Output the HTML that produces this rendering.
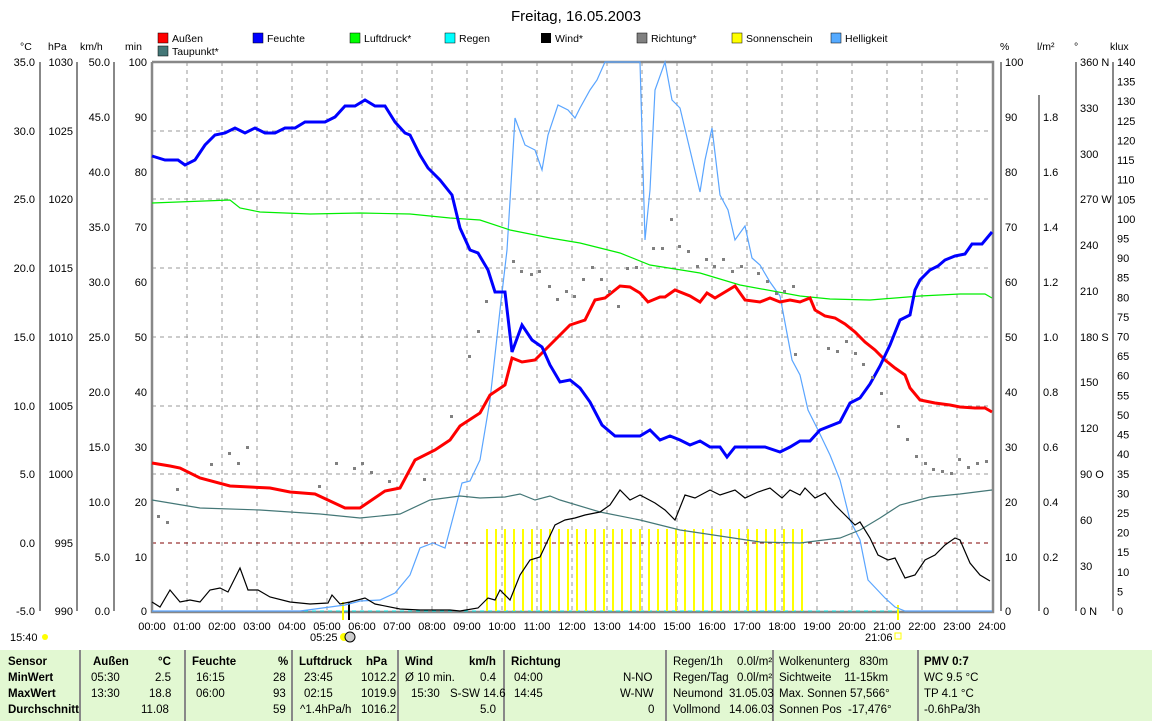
<!DOCTYPE html><html><head><meta charset="utf-8"><style>
body{margin:0;width:1152px;height:721px;background:#fff;font-family:"Liberation Sans",sans-serif;overflow:hidden;position:relative}
svg{position:absolute;left:0;top:0}
.tb{position:absolute;top:650px;height:71px;background:#e2f8d2;width:1152px;left:0}
.c{position:absolute;font-size:11.5px;white-space:nowrap}
.b{font-weight:bold}
.sep{position:absolute;top:650px;height:71px;width:2px;background:#888}
</style></head><body>
<svg width="1152" height="650" font-family="Liberation Sans, sans-serif" font-size="11">
<text x="576" y="21" text-anchor="middle" font-size="15">Freitag, 16.05.2003</text>
<g font-size="10.5">
<rect x="158" y="33" width="10" height="10" fill="red" stroke="#000" stroke-width=".5"/><text x="172" y="42">Außen</text>
<rect x="158" y="46" width="10" height="10" fill="#447777" stroke="#000" stroke-width=".5"/><text x="172" y="55">Taupunkt*</text>
<rect x="253" y="33" width="10" height="10" fill="#0000ff" stroke="#000" stroke-width=".5"/><text x="267" y="42">Feuchte</text>
<rect x="350" y="33" width="10" height="10" fill="#00ff00" stroke="#000" stroke-width=".5"/><text x="364" y="42">Luftdruck*</text>
<rect x="445" y="33" width="10" height="10" fill="#00ffff" stroke="#000" stroke-width=".5"/><text x="459" y="42">Regen</text>
<rect x="541" y="33" width="10" height="10" fill="#000"/><text x="555" y="42">Wind*</text>
<rect x="637" y="33" width="10" height="10" fill="#808080" stroke="#000" stroke-width=".5"/><text x="651" y="42">Richtung*</text>
<rect x="732" y="33" width="10" height="10" fill="#ffff00" stroke="#000" stroke-width=".5"/><text x="746" y="42">Sonnenschein</text>
<rect x="831" y="33" width="10" height="10" fill="#55aaff" stroke="#000" stroke-width=".5"/><text x="845" y="42">Helligkeit</text>
</g>
<g font-size="10.5"><text x="20" y="50">°C</text><text x="48" y="50">hPa</text><text x="80" y="50">km/h</text><text x="125" y="50">min</text>
<text x="1000" y="50">%</text><text x="1037" y="50">l/m²</text><text x="1074" y="50">°</text><text x="1110" y="50">klux</text></g>
<g stroke="#999" stroke-dasharray="4,4" stroke-width="1">
<path d="M187 62V611M222 62V611M257 62V611M292 62V611M327 62V611M362 62V611M397 62V611M432 62V611M467 62V611M502 62V611M537 62V611M572 62V611M607 62V611M642 62V611M677 62V611M712 62V611M747 62V611M782 62V611M817 62V611M852 62V611M887 62V611M922 62V611M957 62V611"/>
<path d="M152 131H992M152 199H992M152 268H992M152 337H992M152 406H992M152 474H992"/>
</g>
<path d="M152 543H992" stroke="#800000" stroke-dasharray="4,4"/>
<g stroke="#888" stroke-width="2" fill="none">
<path d="M40 62V611M77 62V611M114 62V611M1001 62V611M1039 95V611M1076 62V611M1113 62V611"/>
<path d="M152 62V612H993V62H152" stroke-width="2.5"/>
</g>
<path d="M152 611H992" stroke="#00e0e0" stroke-dasharray="4,4"/>
<g text-anchor="end">
<text x="35" y="66">35.0</text><text x="35" y="135">30.0</text><text x="35" y="203">25.0</text><text x="35" y="272">20.0</text><text x="35" y="341">15.0</text><text x="35" y="410">10.0</text><text x="35" y="478">5.0</text><text x="35" y="547">0.0</text><text x="35" y="615">-5.0</text>
<text x="73" y="66">1030</text><text x="73" y="135">1025</text><text x="73" y="203">1020</text><text x="73" y="272">1015</text><text x="73" y="341">1010</text><text x="73" y="410">1005</text><text x="73" y="478">1000</text><text x="73" y="547">995</text><text x="73" y="615">990</text>
<text x="110" y="66">50.0</text><text x="110" y="121">45.0</text><text x="110" y="176">40.0</text><text x="110" y="231">35.0</text><text x="110" y="286">30.0</text><text x="110" y="341">25.0</text><text x="110" y="396">20.0</text><text x="110" y="451">15.0</text><text x="110" y="506">10.0</text><text x="110" y="561">5.0</text><text x="110" y="615">0.0</text>
<text x="147" y="66">100</text><text x="147" y="121">90</text><text x="147" y="176">80</text><text x="147" y="231">70</text><text x="147" y="286">60</text><text x="147" y="341">50</text><text x="147" y="396">40</text><text x="147" y="451">30</text><text x="147" y="506">20</text><text x="147" y="561">10</text><text x="147" y="615">0</text>
</g>
<g>
<text x="1005" y="66">100</text><text x="1005" y="121">90</text><text x="1005" y="176">80</text><text x="1005" y="231">70</text><text x="1005" y="286">60</text><text x="1005" y="341">50</text><text x="1005" y="396">40</text><text x="1005" y="451">30</text><text x="1005" y="506">20</text><text x="1005" y="561">10</text><text x="1005" y="615">0</text>
<text x="1043" y="121">1.8</text><text x="1043" y="176">1.6</text><text x="1043" y="231">1.4</text><text x="1043" y="286">1.2</text><text x="1043" y="341">1.0</text><text x="1043" y="396">0.8</text><text x="1043" y="451">0.6</text><text x="1043" y="506">0.4</text><text x="1043" y="561">0.2</text><text x="1043" y="615">0</text>
<text x="1080" y="66">360 N</text><text x="1080" y="112">330</text><text x="1080" y="158">300</text><text x="1080" y="203">270 W</text><text x="1080" y="249">240</text><text x="1080" y="295">210</text><text x="1080" y="341">180 S</text><text x="1080" y="386">150</text><text x="1080" y="432">120</text><text x="1080" y="478">90 O</text><text x="1080" y="524">60</text><text x="1080" y="570">30</text><text x="1080" y="615">0 N</text>
</g>
<g id="klux"></g>
<g stroke="#ffff00" stroke-width="2" id="sun"></g>
<path d="M343 602V620" stroke="#ffff00" stroke-width="2"/><path d="M349 602V620" stroke="#000" stroke-width="2"/><path d="M898 605V620" stroke="#ffff00" stroke-width="2"/>
<polyline fill="none" stroke="#5aa5ff" stroke-width="1.2" points="152,611 300,611 345,605 360,601 380,600 395,593 410,575 420,548 433,543 445,548 455,510 462,483 470,481 480,460 490,400 500,310 507,250 515,118 525,145 535,150 542,170 548,135 558,105 568,110 575,118 580,108 590,90 597,80 605,62 640,62 645,240 650,190 655,90 665,62 672,100 680,108 690,150 700,192 705,160 712,128 720,195 728,210 735,240 745,226 752,258 760,265 770,282 780,296 792,360 800,375 808,410 818,430 830,455 840,480 850,520 860,540 868,580 885,598 895,607 905,611 992,611"/>
<polyline fill="none" stroke="#447777" stroke-width="1.2" points="152,500 200,508 260,510 320,514 360,518 400,514 430,500 460,496 480,498 505,497 520,494 535,500 550,496 560,500 600,512 640,520 680,530 720,536 760,542 800,543 840,538 860,530 880,518 900,505 930,497 960,494 992,490"/>
<polyline fill="none" stroke="#00ee00" stroke-width="1.2" points="152,203 230,200 240,208 260,212 310,214 360,213 410,214 450,218 480,220 510,230 550,238 580,243 620,253 650,265 700,273 740,285 800,296 830,299 870,300 920,296 960,294 985,294 992,298"/>
<polyline fill="none" stroke="#000" stroke-width="1.2" points="152,602 160,607 170,590 180,602 190,600 200,602 210,590 220,588 228,592 240,568 248,590 258,590 270,597 290,602 310,604 328,603 332,595 340,604 350,602 365,598 375,604 400,609 420,610 450,610 460,611 478,608 488,598 495,600 500,590 510,600 520,575 530,560 540,557 555,525 565,520 575,518 585,515 600,512 610,505 620,490 630,500 640,495 655,503 665,510 675,520 685,495 695,498 710,490 720,495 735,490 745,498 758,492 770,488 782,498 790,490 800,495 805,488 815,498 825,493 835,505 845,515 855,525 860,522 870,538 878,555 888,560 895,558 905,578 915,575 925,560 935,555 945,545 955,538 960,540 970,563 980,575 990,581"/>
<polyline fill="none" stroke="#ff0000" stroke-width="3" points="152,463 170,466 180,468 200,478 230,486 270,488 290,492 315,494 345,508 360,508 385,491 400,488 415,460 435,450 450,440 460,426 480,413 490,395 505,385 512,358 522,362 535,360 545,350 555,340 570,325 585,320 595,300 605,298 620,286 630,287 640,293 648,302 660,297 665,297 675,290 690,296 700,302 707,293 715,298 735,286 745,300 760,302 770,298 780,302 790,300 800,302 810,298 815,310 825,316 835,318 845,324 855,332 865,342 875,350 885,360 895,368 905,375 910,388 920,400 935,403 950,405 960,407 975,408 985,408 992,412"/>
<polyline fill="none" stroke="#0000ff" stroke-width="3" points="152,156 165,160 178,160 185,165 195,160 205,145 215,135 225,133 235,128 245,133 255,128 265,133 275,133 285,128 295,128 305,122 325,122 335,117 345,106 355,106 365,100 375,106 385,106 395,122 405,133 410,135 420,155 428,168 440,180 452,195 460,228 470,250 478,253 488,270 495,292 505,292 512,352 522,325 532,340 542,347 550,365 560,382 570,380 580,388 590,402 602,425 615,436 640,436 650,430 660,440 670,436 680,440 690,445 700,441 710,447 720,447 727,457 735,447 765,447 780,452 790,447 800,441 810,441 820,430 840,422 850,403 860,398 870,384 880,366 890,345 900,320 910,315 915,290 920,280 930,270 938,266 945,260 955,256 965,254 972,244 982,244 992,232"/>
<g fill="#808080">
<rect x="157" y="515" width="3" height="3"/><rect x="166" y="521" width="3" height="3"/><rect x="176" y="488" width="3" height="3"/><rect x="210" y="463" width="3" height="3"/><rect x="228" y="452" width="3" height="3"/><rect x="237" y="462" width="3" height="3"/><rect x="246" y="446" width="3" height="3"/><rect x="318" y="485" width="3" height="3"/><rect x="335" y="462" width="3" height="3"/><rect x="353" y="467" width="3" height="3"/><rect x="361" y="462" width="3" height="3"/><rect x="370" y="471" width="3" height="3"/><rect x="388" y="480" width="3" height="3"/><rect x="423" y="478" width="3" height="3"/><rect x="450" y="415" width="3" height="3"/><rect x="468" y="355" width="3" height="3"/><rect x="477" y="330" width="3" height="3"/><rect x="485" y="300" width="3" height="3"/><rect x="512" y="260" width="3" height="3"/><rect x="520" y="270" width="3" height="3"/><rect x="530" y="273" width="3" height="3"/><rect x="538" y="270" width="3" height="3"/><rect x="548" y="285" width="3" height="3"/><rect x="556" y="298" width="3" height="3"/><rect x="565" y="290" width="3" height="3"/><rect x="573" y="295" width="3" height="3"/><rect x="582" y="278" width="3" height="3"/><rect x="591" y="266" width="3" height="3"/><rect x="600" y="278" width="3" height="3"/><rect x="608" y="290" width="3" height="3"/><rect x="617" y="305" width="3" height="3"/><rect x="626" y="267" width="3" height="3"/><rect x="635" y="266" width="3" height="3"/><rect x="652" y="247" width="3" height="3"/><rect x="661" y="247" width="3" height="3"/><rect x="670" y="218" width="3" height="3"/><rect x="678" y="245" width="3" height="3"/><rect x="687" y="250" width="3" height="3"/><rect x="696" y="265" width="3" height="3"/><rect x="705" y="258" width="3" height="3"/><rect x="713" y="265" width="3" height="3"/><rect x="722" y="258" width="3" height="3"/><rect x="731" y="270" width="3" height="3"/><rect x="740" y="265" width="3" height="3"/><rect x="757" y="272" width="3" height="3"/><rect x="766" y="280" width="3" height="3"/><rect x="775" y="292" width="3" height="3"/><rect x="783" y="290" width="3" height="3"/><rect x="792" y="285" width="3" height="3"/><rect x="794" y="353" width="3" height="3"/><rect x="827" y="347" width="3" height="3"/><rect x="836" y="350" width="3" height="3"/><rect x="845" y="340" width="3" height="3"/><rect x="854" y="352" width="3" height="3"/><rect x="862" y="363" width="3" height="3"/><rect x="871" y="376" width="3" height="3"/><rect x="880" y="392" width="3" height="3"/><rect x="897" y="425" width="3" height="3"/><rect x="906" y="438" width="3" height="3"/><rect x="915" y="455" width="3" height="3"/><rect x="924" y="462" width="3" height="3"/><rect x="932" y="468" width="3" height="3"/><rect x="941" y="470" width="3" height="3"/><rect x="950" y="472" width="3" height="3"/><rect x="958" y="458" width="3" height="3"/><rect x="967" y="466" width="3" height="3"/><rect x="976" y="462" width="3" height="3"/><rect x="985" y="460" width="3" height="3"/>
</g>
<g text-anchor="middle" id="hrs"></g>
<text x="10" y="641">15:40</text><circle cx="45" cy="637" r="3" fill="#ffff00"/>
<text x="310" y="641">05:25</text><circle cx="344" cy="637" r="4" fill="#ffff00"/><circle cx="350" cy="637" r="5" fill="#ccc" stroke="#000"/>
<text x="865" y="641">21:06</text><rect x="895" y="633" width="6" height="6" fill="none" stroke="#ffff00"/>
</svg>
<div class="tb"></div>
<div class="sep" style="left:79px"></div><div class="sep" style="left:184px"></div><div class="sep" style="left:291px"></div><div class="sep" style="left:397px"></div><div class="sep" style="left:503px"></div><div class="sep" style="left:665px"></div><div class="sep" style="left:772px"></div><div class="sep" style="left:917px"></div>
<div class="c b" style="left:8px;top:656px">Sensor</div><div class="c b" style="left:8px;top:672px">MinWert</div><div class="c b" style="left:8px;top:688px">MaxWert</div><div class="c b" style="left:8px;top:704px">Durchschnitt</div>
<div class="c b" style="left:93px;top:656px">Außen</div><div class="c b" style="left:158px;top:656px">°C</div>
<div class="c" style="left:91px;top:672px">05:30</div><div class="c" style="left:155px;top:672px">2.5</div>
<div class="c" style="left:91px;top:688px">13:30</div><div class="c" style="left:149px;top:688px">18.8</div>
<div class="c" style="left:141px;top:704px">11.08</div>
<div class="c b" style="left:192px;top:656px">Feuchte</div><div class="c b" style="left:278px;top:656px">%</div>
<div class="c" style="left:196px;top:672px">16:15</div><div class="c" style="left:273px;top:672px">28</div>
<div class="c" style="left:196px;top:688px">06:00</div><div class="c" style="left:273px;top:688px">93</div>
<div class="c" style="left:273px;top:704px">59</div>
<div class="c b" style="left:299px;top:656px">Luftdruck</div><div class="c b" style="left:366px;top:656px">hPa</div>
<div class="c" style="left:304px;top:672px">23:45</div><div class="c" style="left:361px;top:672px">1012.2</div>
<div class="c" style="left:304px;top:688px">02:15</div><div class="c" style="left:361px;top:688px">1019.9</div>
<div class="c" style="left:300px;top:704px">^1.4hPa/h</div><div class="c" style="left:361px;top:704px">1016.2</div>
<div class="c b" style="left:405px;top:656px">Wind</div><div class="c b" style="left:469px;top:656px">km/h</div>
<div class="c" style="left:405px;top:672px">Ø 10 min.</div><div class="c" style="left:480px;top:672px">0.4</div>
<div class="c" style="left:411px;top:688px">15:30</div><div class="c" style="left:450px;top:688px">S-SW 14.6</div>
<div class="c" style="left:480px;top:704px">5.0</div>
<div class="c b" style="left:511px;top:656px">Richtung</div>
<div class="c" style="left:514px;top:672px">04:00</div><div class="c" style="left:623px;top:672px">N-NO</div>
<div class="c" style="left:514px;top:688px">14:45</div><div class="c" style="left:620px;top:688px">W-NW</div>
<div class="c" style="left:648px;top:704px">0</div>
<div class="c" style="left:673px;top:656px">Regen/1h</div><div class="c" style="left:737px;top:656px">0.0l/m²</div>
<div class="c" style="left:673px;top:672px">Regen/Tag</div><div class="c" style="left:737px;top:672px">0.0l/m²</div>
<div class="c" style="left:673px;top:688px">Neumond</div><div class="c" style="left:729px;top:688px">31.05.03</div>
<div class="c" style="left:673px;top:704px">Vollmond</div><div class="c" style="left:729px;top:704px">14.06.03</div>
<div class="c" style="left:779px;top:656px">Wolkenunterg&nbsp;&nbsp;&nbsp;830m</div>
<div class="c" style="left:779px;top:672px">Sichtweite&nbsp;&nbsp;&nbsp;&nbsp;11-15km</div>
<div class="c" style="left:779px;top:688px">Max. Sonnen 57,566°</div>
<div class="c" style="left:779px;top:704px">Sonnen Pos&nbsp;&nbsp;-17,476°</div>
<div class="c b" style="left:924px;top:656px">PMV 0:7</div>
<div class="c" style="left:924px;top:672px">WC 9.5 °C</div>
<div class="c" style="left:924px;top:688px">TP 4.1 °C</div>
<div class="c" style="left:924px;top:704px">-0.6hPa/3h</div>
<script>
var ns="http://www.w3.org/2000/svg";
var k=document.getElementById("klux");
for(var v=140;v>=0;v-=5){var t=document.createElementNS(ns,"text");t.setAttribute("x",1117);t.setAttribute("y",611-v*549/140+4);t.textContent=v;k.appendChild(t);}
var s=document.getElementById("sun");
for(var x=487;x<=808;x+=9){var l=document.createElementNS(ns,"path");l.setAttribute("d","M"+x+" 529V611");s.appendChild(l);}
var h=document.getElementById("hrs");
for(var i=0;i<=24;i++){var t=document.createElementNS(ns,"text");t.setAttribute("x",152+35*i);t.setAttribute("y",630);t.textContent=(i<10?"0":"")+i+":00";h.appendChild(t);}
</script>
</body></html>
